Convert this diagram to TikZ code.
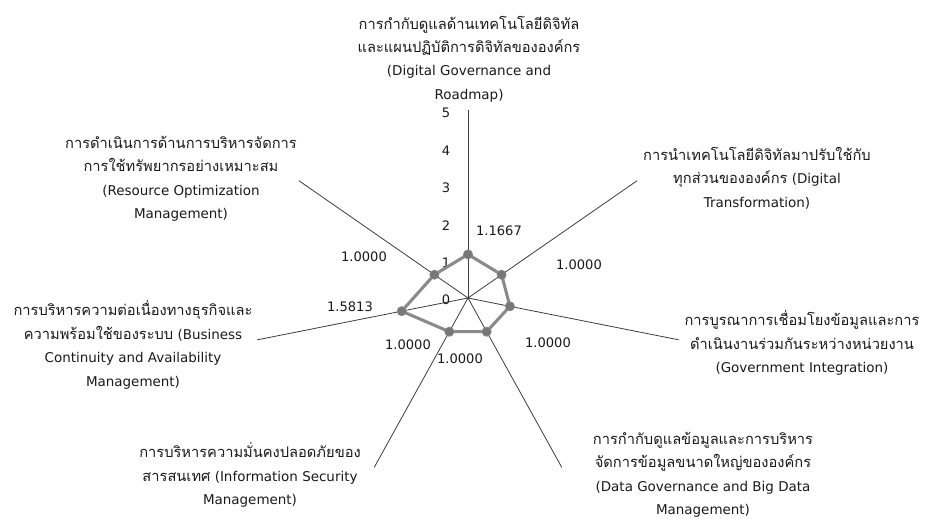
\documentclass[tikz,border=0pt]{standalone}
\usepackage{fontspec}
\setmainfont{DejaVu Sans}
\newfontfamily\thaifont[Script=Thai]{Loma}
\newcommand{\thai}[1]{{\thaifont\fontsize{11}{17.6}\selectfont #1}}
\usetikzlibrary{positioning}
\definecolor{axisgray}{RGB}{60,60,60}
\definecolor{seriesgray}{RGB}{138,138,138}
\definecolor{markergray}{RGB}{120,120,120}
\definecolor{textblack}{RGB}{25,25,25}

\begin{document}
\begin{tikzpicture}[x=0.75pt, y=0.75pt, every node/.style={font=\fontsize{9.8}{17.6}\selectfont, text=textblack},
  catlabel/.style={align=center, inner sep=0pt, font=\fontsize{10.1}{17.6}\selectfont},
  vallabel/.style={inner sep=0pt},
  marker/.style={circle, fill=markergray, draw=seriesgray, inner sep=0pt, minimum size=7pt}]
\useasboundingbox (-468,-220) rectangle (457,298);

% Axes
\coordinate (o) at (0,0);
\foreach \i in {1,...,7} {
  \pgfmathsetmacro{\a}{90-(\i-1)*360/7}
  \coordinate (ax\i) at ({43*5.03*cos(\a)},{37.4*5.03*sin(\a)});
  \draw[axisgray, line width=0.6pt] (o) -- (ax\i);
}

% Scale
\foreach \k in {0,...,5}
  \node[vallabel] (t\k) at (-22,{37.4*\k-2}) {\k};

% Series
\foreach \v [count=\i] in {1.1667,1,1,1,1,1.5813,1} {
  \pgfmathsetmacro{\a}{90-(\i-1)*360/7}
  \coordinate (p\i) at ({43*\v*cos(\a)},{37.4*\v*sin(\a)});
}
\draw[seriesgray, line width=2.3pt, line join=round] (p1) -- (p2) -- (p3) -- (p4) -- (p5) -- (p6) -- (p7) -- cycle;
\foreach \i in {1,...,7}
  \node[marker] (m\i) at (p\i) {};

% Data labels
\node[vallabel] (v1) at (31,67) {1.1667};
\node[vallabel] (v2) at (111,33) {1.0000};
\node[vallabel] (v3) at (80,-45) {1.0000};
\node[vallabel] (v4) at (-8,-61) {1.0000};
\node[vallabel] (v5) at (-60,-47) {1.0000};
\node[vallabel] (v6) at (-118,-9) {1.5813};
\node[vallabel] (v7) at (-104,41) {1.0000};

% Categories
\node[catlabel] (c1) at (1,239) {\thai{การกำกับดูแลด้านเทคโนโลยีดิจิทัล}\\\thai{และแผนปฏิบัติการดิจิทัลขององค์กร}\\(Digital Governance and\\Roadmap)};
\node[catlabel] (c2) at (289,120) {\thai{การนำเทคโนโลยีดิจิทัลมาปรับใช้กับ}\\\thai{ทุกส่วนขององค์กร} (Digital\\Transformation)};
\node[catlabel] (c3) at (334,-45) {\thai{การบูรณาการเชื่อมโยงข้อมูลและการ}\\\thai{ดำเนินงานร่วมกันระหว่างหน่วยงาน}\\(Government Integration)};
\node[catlabel] (c4) at (235,-177) {\thai{การกำกับดูแลข้อมูลและการบริหาร}\\\thai{จัดการข้อมูลขนาดใหญ่ขององค์กร}\\(Data Governance and Big Data\\Management)};
\node[catlabel] (c5) at (-218,-177) {\thai{การบริหารความมั่นคงปลอดภัยของ}\\\thai{สารสนเทศ} (Information Security\\Management)};
\node[catlabel] (c6) at (-335,-47) {\thai{การบริหารความต่อเนื่องทางธุรกิจและ}\\\thai{ความพร้อมใช้ของระบบ} (Business\\Continuity and Availability\\Management)};
\node[catlabel] (c7) at (-287,119) {\thai{การดำเนินการด้านการบริหารจัดการ}\\\thai{การใช้ทรัพยากรอย่างเหมาะสม}\\(Resource Optimization\\Management)};
\end{tikzpicture}
\end{document}
